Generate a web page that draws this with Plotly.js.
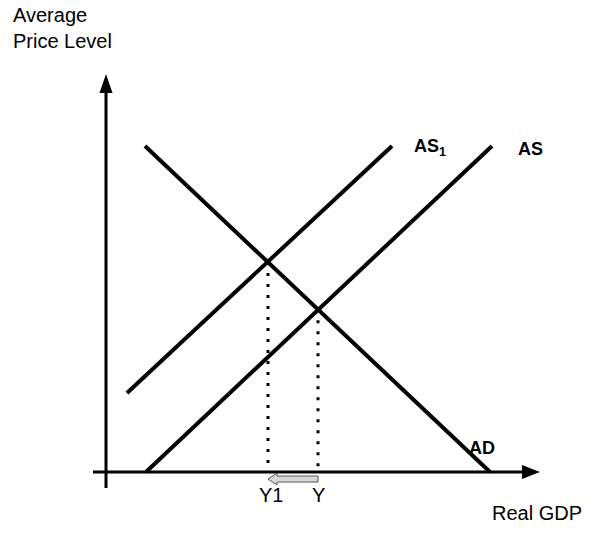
<!DOCTYPE html>
<html><head><meta charset="utf-8">
<script src="https://cdn.plot.ly/plotly-3.0.1.min.js"></script>
<style>html,body{margin:0;padding:0;background:#fff}</style>
</head><body><div id="chart" style="width:598px;height:534px"></div>
<script>
// ---- data (abstract units: Real GDP on x, Average Price Level on y) ----
const adX = [0.975, 9.6],  adY = [8.15, 0];
const asX = [1.0, 9.65],   asY = [0, 8.15];
const as1X = [0.525, 7.15], as1Y = [1.975, 8.15];
const outputLevels = [4.05, 5.3];      // Y1, Y
const priceLevels = [5.25, 4.07];      // equilibrium price at Y1, Y
const outputLabels = ['Y1', 'Y'];
const curveNames = ['AD', 'AS', 'AS<sub>1</sub>'];
const xAxisSpan = [-0.325, 10.425];
const yAxisSpan = [-0.4, 9.5];
const axisTitles = ['Real GDP', 'Average<br>Price Level'];

// ---- drawing ----
const W = 598, H = 534;
const FONT = 'Liberation Sans, Arial, sans-serif';
const px = v => v / W, py = v => 1 - v / H;
const base = {mode: 'lines', hoverinfo: 'skip', showlegend: false};
const blk = w => ({color: '#000', width: w});

const traces = [
  Object.assign({x: xAxisSpan, y: [0, 0], line: blk(3)}, base),
  Object.assign({x: [0, 0], y: yAxisSpan, line: blk(3)}, base),
  Object.assign({x: adX, y: adY, line: blk(4)}, base),
  Object.assign({x: asX, y: asY, line: blk(4)}, base),
  Object.assign({x: as1X, y: as1Y, line: blk(4)}, base)
];
outputLevels.forEach((q, i) => {
  traces.push(Object.assign({x: [q, q], y: [priceLevels[i], 0],
    line: {color: '#000', width: 3, dash: '3px,8px'}}, base));
});

const shapes = [
  {type: 'path', xref: 'x', yref: 'y', xsizemode: 'pixel', ysizemode: 'pixel',
   xanchor: 0, yanchor: yAxisSpan[1], path: 'M-6.5,-1 L6.5,-1 L0,18 Z',
   fillcolor: '#000', line: {width: 0}},
  {type: 'path', xref: 'x', yref: 'y', xsizemode: 'pixel', ysizemode: 'pixel',
   xanchor: xAxisSpan[1], yanchor: 0, path: 'M-1,7 L-1,-7 L17,0 Z',
   fillcolor: '#000', line: {width: 0}}
];
// hollow shift arrow from Y to Y1 under the axis
const tip = outputLevels[0], tail = outputLevels[1], hb = tip + 0.225;
shapes.push({type: 'path', xref: 'x', yref: 'y', ysizemode: 'pixel', yanchor: 0,
  path: `M${tail},-4 L${hb},-4 L${hb},-1 L${tip},-7 L${hb},-13 L${hb},-10 L${tail},-10 Z`,
  fillcolor: '#d9d9d9', line: {color: '#555', width: 1}});

const ann = [];
const txt = (text, x, y, size, bold, xa) => ann.push({text: bold ? '<b>' + text + '</b>' : text,
  xref: 'paper', yref: 'paper', x: px(x), y: py(y), xanchor: xa || 'left', yanchor: 'middle',
  showarrow: false, align: 'left', font: {family: FONT, size: size, color: '#000'}});
txt(axisTitles[1], 11, 28, 20);
txt(axisTitles[0], 490, 513, 20);
txt(curveNames[2], 412, 147, 18, true);
txt(curveNames[1], 516, 149, 18, true);
txt(curveNames[0], 467, 448, 18, true);
outputLabels.forEach((l, i) => ann.push({text: l, xref: 'x', yref: 'y', x: outputLevels[i], y: 0,
  xanchor: 'center', yanchor: 'middle', xshift: i === 0 ? 3 : 0, yshift: -23, showarrow: false,
  font: {family: FONT, size: 20, color: '#000'}}));

const layout = {
  width: W, height: H, margin: {l: 0, r: 0, t: 0, b: 0},
  paper_bgcolor: '#fff', plot_bgcolor: '#fff',
  xaxis: {range: [-2.65, 12.3], visible: false, fixedrange: true},
  yaxis: {range: [-1.55, 11.8], visible: false, fixedrange: true},
  shapes: shapes, annotations: ann
};
Plotly.newPlot('chart', traces, layout, {staticPlot: true, displayModeBar: false});
</script></body></html>
